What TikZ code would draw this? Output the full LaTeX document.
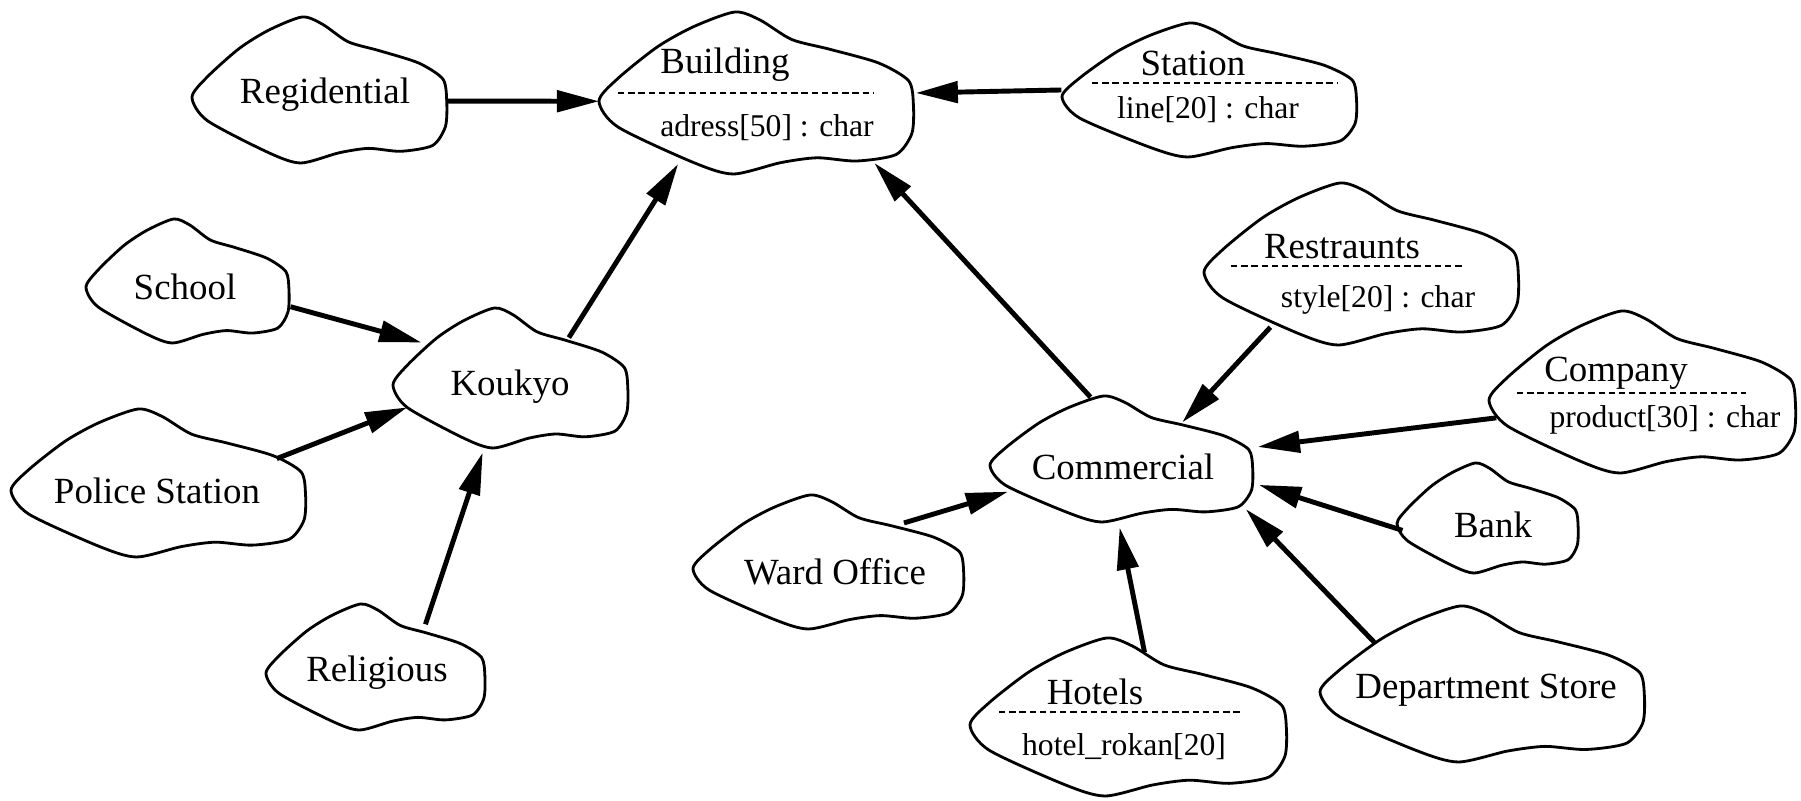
\documentclass[tikz,border=0pt]{standalone}
\usepackage{fontspec}
\setmainfont{Liberation Serif}
\usetikzlibrary{arrows.meta,shapes.geometric}
\tikzset{
  cloudnode/.style={ellipse, inner sep=0pt, draw=none},
  cloudline/.style={line width=0.8pt, line join=round},
  lbl/.style={inner sep=0pt, font=\fontsize{10.5}{12}\selectfont},
  attr/.style={inner sep=0pt, font=\fontsize{9}{11}\selectfont},
  sepline/.style={line width=0.8pt, dash pattern=on 1.8pt off 1.1pt},
  arr/.style={-{Triangle[length=12pt,width=6pt]}, line width=1.4pt}
}
% cloud: name, centre, half width, half height (cm)
\newcommand{\blob}[4]{%
  \node[cloudnode, minimum width=2*#3cm, minimum height=2*#4cm] (#1) at #2 {};
  \draw[cloudline, shift={(#1.center)}, x=#3cm, y=#4cm]
    plot[smooth cycle, tension=0.45] coordinates {(-1,-0.1) (-0.88,0.18)
      (-0.63,0.57) (-0.4,0.82) (-0.14,1) (0.02,0.9) (0.22,0.66) (0.46,0.54)
      (0.77,0.37) (0.96,0.15) (0.99,-0.15) (0.98,-0.5) (0.88,-0.76)
      (0.63,-0.84) (0.38,-0.8) (0.15,-0.86) (-0.15,-1) (-0.4,-0.86)
      (-0.88,-0.42)};
}

\begin{document}
\begin{tikzpicture}
\useasboundingbox (0,0) rectangle (18.01,-8.01);

%clouds
\blob{regidential}{(3.20,-0.90)}{1.28}{0.73}
\blob{building}{(7.57,-0.93)}{1.58}{0.81}
\blob{station}{(12.10,-0.90)}{1.48}{0.67}
\blob{school}{(1.88,-2.81)}{1.02}{0.62}
\blob{koukyo}{(5.11,-3.78)}{1.18}{0.70}
\blob{police}{(1.59,-4.83)}{1.48}{0.74}
\blob{religious}{(3.76,-6.67)}{1.10}{0.63}
\blob{commercial}{(11.22,-4.59)}{1.32}{0.63}
\blob{ward}{(8.29,-5.62)}{1.36}{0.67}
\blob{restraunts}{(13.62,-2.64)}{1.58}{0.81}
\blob{company}{(16.43,-3.92)}{1.54}{0.81}
\blob{bank}{(14.88,-5.18)}{0.91}{0.55}
\blob{hotels}{(11.29,-7.17)}{1.59}{0.79}
\blob{dept}{(14.83,-6.84)}{1.63}{0.78}

%plain labels
\node[lbl] (regidential-t) at (3.25,-0.95) {Regidential};
\node[lbl] (school-t) at (1.85,-2.87) {School};
\node[lbl] (koukyo-t) at (5.10,-3.87) {Koukyo};
\node[lbl] (police-t) at (1.57,-4.91) {Police Station};
\node[lbl] (religious-t) at (3.77,-6.73) {Religious};
\node[lbl] (commercial-t) at (11.23,-4.67) {Commercial};
\node[lbl] (ward-t) at (8.35,-5.72) {Ward Office};
\node[lbl] (bank-t) at (14.93,-5.25) {Bank};
\node[lbl] (dept-t) at (14.86,-6.90) {Department Store};

%class clouds with an attribute
\node[lbl] (building-t) at (7.25,-0.65) {Building};
\draw[sepline] (6.18,-0.93) -- (8.73,-0.93);
\node[attr] (building-a) at (7.67,-1.28) {adress[50] : char};

\node[lbl] (station-t) at (11.93,-0.63) {Station};
\draw[sepline] (10.92,-0.83) -- (13.37,-0.83);
\node[attr] (station-a) at (12.08,-1.10) {line[20] : char};

\node[lbl] (restraunts-t) at (13.42,-2.47) {Restraunts};
\draw[sepline] (12.31,-2.66) -- (14.65,-2.66);
\node[attr] (restraunts-a) at (13.78,-3.00) {style[20] : char};

\node[lbl] (company-t) at (16.16,-3.73) {Company};
\draw[sepline] (15.17,-3.93) -- (17.46,-3.93);
\node[attr] (company-a) at (16.65,-4.20) {product[30] : char};

\node[lbl] (hotels-t) at (10.95,-6.92) {Hotels};
\draw[sepline] (9.99,-7.12) -- (12.42,-7.12);
\node[attr] (hotels-a) at (11.24,-7.47) {hotel\_rokan[20]};

%inheritance arrows
\draw[arr] (regidential.355) -- (building.183);
\draw[arr] (station.180) -- (building.0);
\draw[arr, shorten <=-5.8pt] (koukyo.40) -- (building.222);
\draw[arr, shorten >=3.9pt] (commercial.117) -- (building.331);

\draw[arr, shorten <=2.2pt, shorten >=-3pt] (school.346) -- (koukyo.159);
\draw[arr, shorten <=-5.3pt, shorten >=-1pt] (police.13) -- (koukyo.196);
\draw[arr, shorten <=-3.9pt, shorten >=1.7pt] (religious.46) -- (koukyo.249);

\draw[arr, shorten <=-1pt, shorten >=-6.2pt] (restraunts.215) -- (commercial.35);
\draw[arr, shorten >=1.5pt] (company.190) -- (commercial.5);
\draw[arr, shorten <=-1.3pt, shorten >=3.7pt] (bank.187) -- (commercial.350);
\draw[arr, shorten <=-7.3pt] (ward.25) -- (commercial.196);
\draw[arr, shorten <=-4.3pt, shorten >=1.4pt] (hotels.81) -- (commercial.267);
\draw[arr, shorten <=-4.6pt, shorten >=5.7pt] (dept.156) -- (commercial.342);
\end{tikzpicture}
\end{document}
